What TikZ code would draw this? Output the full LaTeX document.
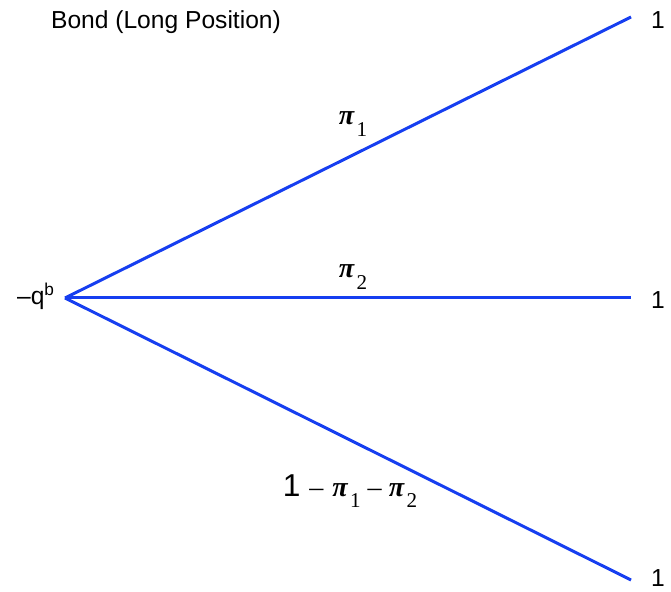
\documentclass[tikz,border=0pt]{standalone}
\usepackage{amsmath,amssymb}
\usepackage{fontspec}
\setmainfont{Liberation Sans}
\newfontfamily\probfont{Liberation Serif}
\usepackage{tikz}
\usetikzlibrary{positioning}

\definecolor{treeblue}{RGB}{22,62,240}
% pi with a lowered index
\newcommand{\probpi}[1]{\textbf{\textit{π}}\hspace{1pt}\raisebox{-6.5pt}{\fontsize{12}{12}\selectfont #1}}

\begin{document}
\begin{tikzpicture}[
  branch/.style={treeblue, line width=1.7pt},
  payoff/.style={font=\fontsize{14}{16}\selectfont, inner sep=1pt},
  prob/.style={font=\probfont\fontsize{16}{18}\selectfont, inner sep=1pt}
]
\useasboundingbox (0,0) rectangle (13.42,11.84);

% Title
\node[payoff] (title) at (3.32,11.40) {Bond (Long Position)};

% Root and end points
\coordinate (root) at (1.30,5.88);
\coordinate (up) at (12.62,11.50);
\coordinate (mid) at (12.62,5.88);
\coordinate (down) at (12.62,0.24);
\node[payoff] (price) at (0.72,5.92) {–q\textsuperscript{b}};

% Payoffs
\node[payoff] (payup) at (13.16,11.44) {1};
\node[payoff] (paymid) at (13.16,5.84) {1};
\node[payoff] (paydown) at (13.16,0.28) {1};

% Branches
\draw[branch] (root) -- (up);
\draw[branch] (root) -- (mid);
\draw[branch] (root) -- (down);

% Probabilities
\node[prob] (pone) at (7.06,9.36) {\probpi{1}};
\node[prob] (ptwo) at (7.06,6.30) {\probpi{2}};
\node[prob] (pthree) at (7.00,2.02) {{\rmfamily\fontsize{18}{20}\selectfont 1}\hspace{5pt}–\hspace{5pt}\probpi{1}\hspace{4pt}–\hspace{4pt}\probpi{2}};
\end{tikzpicture}
\end{document}
